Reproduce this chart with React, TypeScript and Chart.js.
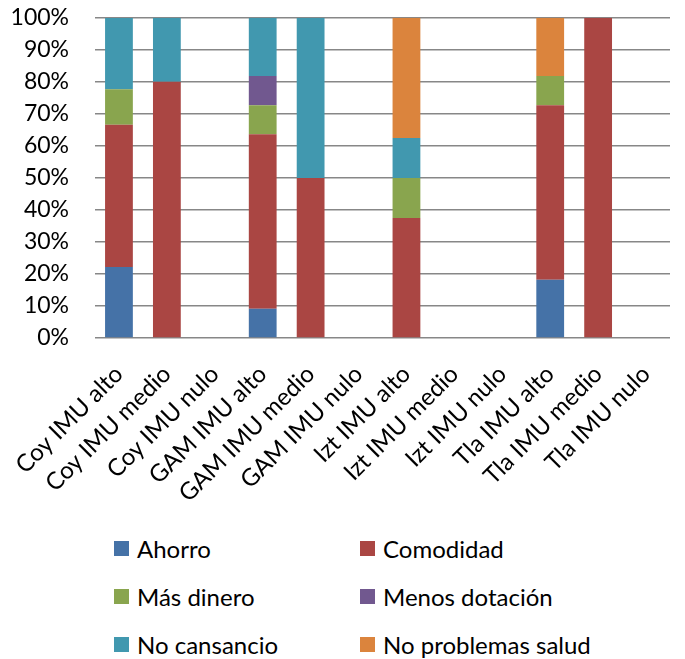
import React, { useEffect, useRef } from "react";
import { Chart, registerables } from "chart.js";

Chart.register(...registerables);

const categories = [
  "Coy IMU alto", "Coy IMU medio", "Coy IMU nulo",
  "GAM IMU alto", "GAM IMU medio", "GAM IMU nulo",
  "Izt IMU alto", "Izt IMU medio", "Izt IMU nulo",
  "Tla IMU alto", "Tla IMU medio", "Tla IMU nulo",
];

const seriesNames = ["Ahorro", "Comodidad", "Más dinero", "Menos dotación", "No cansancio", "No problemas salud"];
const seriesColors = ["#4572A7", "#AA4643", "#89A54E", "#71588F", "#4198AF", "#DB843D"];

const ahorro = [22.2, 0, 0, 9.1, 0, 0, 0, 0, 0, 18.2, 0, 0];
const comodidad = [44.4, 80, 0, 54.5, 50, 0, 37.5, 0, 0, 54.5, 100, 0];
const masDinero = [11.1, 0, 0, 9.1, 0, 0, 12.5, 0, 0, 9.1, 0, 0];
const menosDotacion = [0, 0, 0, 9.1, 0, 0, 0, 0, 0, 0, 0, 0];
const noCansancio = [22.2, 20, 0, 18.2, 50, 0, 12.5, 0, 0, 0, 0, 0];
const noProblemasSalud = [0, 0, 0, 0, 0, 0, 37.5, 0, 0, 18.2, 0, 0];

const seriesValues = [ahorro, comodidad, masDinero, menosDotacion, noCansancio, noProblemasSalud];

const yTicks = [0, 10, 20, 30, 40, 50, 60, 70, 80, 90, 100];

const FONT = "Lato, 'Liberation Sans', sans-serif";

export default function App() {
  const ref = useRef<HTMLCanvasElement | null>(null);

  useEffect(() => {
    if (!ref.current) return;
    const chart = new Chart(ref.current, {
      type: "bar",
      data: {
        labels: categories,
        datasets: seriesNames.map((name, i) => ({
          label: name,
          data: seriesValues[i],
          backgroundColor: seriesColors[i],
          borderWidth: 0,
          barPercentage: 0.58,
          categoryPercentage: 1,
        })),
      },
      options: {
        responsive: false,
        animation: false,
        layout: { padding: { top: 18, right: 15, left: 0, bottom: 0 } },
        plugins: { legend: { display: false }, tooltip: { enabled: false } },
        scales: {
          x: {
            stacked: true,
            grid: { display: false, drawTicks: false },
            border: { display: false },
            ticks: {
              autoSkip: false,
              minRotation: 45,
              maxRotation: 45,
              padding: 22,
              color: "#000",
              font: { family: FONT, size: 24 },
            },
            afterFit: (s: any) => {
              s.height = 162;
              s.paddingLeft = 0;
              s.paddingRight = 0;
            },
          },
          y: {
            stacked: true,
            min: 0,
            max: 100,
            afterBuildTicks: (s: any) => { s.ticks = yTicks.map((v) => ({ value: v })); },
            grid: { color: "#878787", lineWidth: 1.5, drawTicks: false },
            border: { display: false },
            ticks: {
              padding: 26,
              color: "#000",
              font: { family: FONT, size: 23 },
              callback: (v: any) => v + "%",
            },
            afterFit: (s: any) => { s.width = 95; },
          },
        },
      },
    });
    return () => chart.destroy();
  }, []);

  const rows = [0, 1, 2];
  return (
    <div style={{ position: "fixed", left: 0, top: 0, width: 685, height: 659, background: "#fff", fontFamily: FONT, overflow: "hidden" }}>
      <canvas ref={ref} width={685} height={522} style={{ position: "absolute", left: 0, top: -22 }} />
      {rows.map((r) =>
        [0, 1].map((c) => {
          const i = r * 2 + c;
          return (
            <div
              key={i}
              style={{
                position: "absolute",
                left: c === 0 ? 114 : 360,
                top: 548 + r * 48 - 15,
                height: 30,
                display: "flex",
                alignItems: "center",
                whiteSpace: "nowrap",
                fontSize: 24,
                color: "#000",
              }}
            >
              <span style={{ display: "inline-block", width: 15, height: 15, background: seriesColors[i], marginRight: 8 }} />
              <span>{seriesNames[i]}</span>
            </div>
          );
        })
      )}
    </div>
  );
}
